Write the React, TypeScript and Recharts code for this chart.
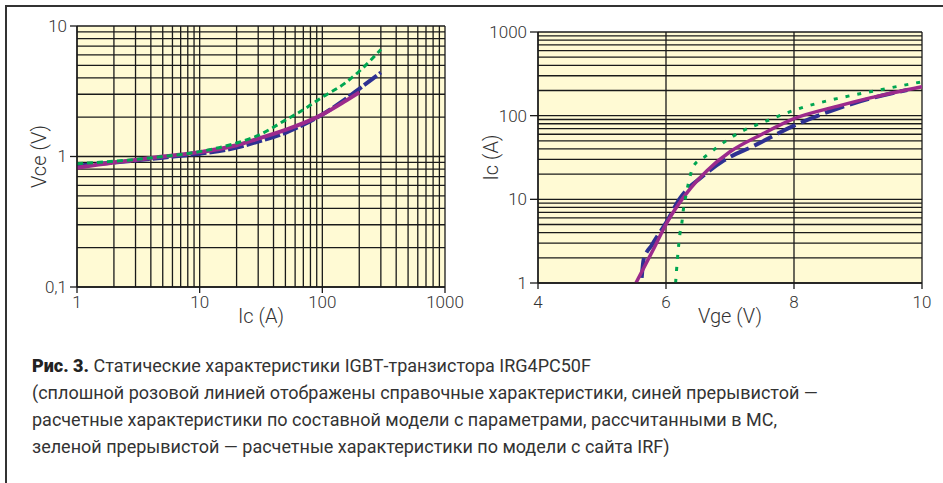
import { LineChart, Line, XAxis, YAxis, CartesianGrid, Label } from "recharts";

// --- left chart: Vce vs Ic (log-log) ---
const icTicks = [1, 2, 3, 4, 5, 6, 7, 8, 9, 10, 20, 30, 40, 50, 60, 70, 80, 90, 100, 200, 300, 400, 500, 600, 700, 800, 900, 1000];
const icMajor = [1, 10, 100, 1000];
const vceTicks = [0.1, 0.2, 0.3, 0.4, 0.5, 0.6, 0.7, 0.8, 0.9, 1, 2, 3, 4, 5, 6, 7, 8, 9, 10];
const vceMajor = [0.1, 1, 10];

const refIc = [1, 2, 3, 5, 10, 20, 30, 50, 70, 100, 150, 200];
const refVce = [0.82, 0.9, 0.94, 1.0, 1.08, 1.22, 1.37, 1.6, 1.8, 2.1, 2.62, 3.1];
const mcIc = [1, 2, 3, 5, 10, 20, 30, 50, 70, 100, 150, 200, 300];
const mcVce = [0.85, 0.9, 0.93, 0.98, 1.05, 1.17, 1.3, 1.52, 1.75, 2.1, 2.7, 3.3, 4.4];
const irfIc = [1, 2, 3, 5, 10, 20, 30, 50, 70, 100, 150, 200, 300];
const irfVce = [0.88, 0.92, 0.95, 1.0, 1.09, 1.27, 1.45, 1.9, 2.28, 2.85, 3.6, 4.5, 6.6];

// --- right chart: Ic vs Vge (semi-log) ---
const vgeTicks = [4, 6, 8, 10];
const icLogTicks = [1, 2, 3, 4, 5, 6, 7, 8, 9, 10, 20, 30, 40, 50, 60, 70, 80, 90, 100, 200, 300, 400, 500, 600, 700, 800, 900, 1000];
const icLogMajor = [1, 10, 100, 1000];

const refVge = [5.53, 5.8, 6.01, 6.32, 6.64, 7.0, 7.5, 8.0, 8.67, 9.19, 10];
const refIcT = [1, 2.5, 5.2, 11.8, 22, 37, 60, 92, 129, 163, 222];
const mcVge = [5.62, 5.65, 5.78, 6.01, 6.22, 6.32, 6.53, 6.9, 7.37, 8.0, 8.67, 9.19, 9.77];
const mcIcT = [1.15, 1.9, 2.85, 5.4, 10.3, 12.9, 17.8, 29, 43.5, 76, 121, 160, 203];
const irfVge = [6.15, 6.18, 6.22, 6.25, 6.27, 6.31, 6.35, 6.43, 6.6, 6.8, 7.1, 7.63, 8.0, 8.67, 9.19, 10];
const irfIcT = [1, 2, 4, 5.4, 7.4, 11, 15.5, 25, 32, 42, 60, 90, 116, 160, 193, 254];

const toPoints = (xs: number[], ys: number[]) => xs.map((x, i) => ({ x, y: ys[i] }));

const PINK = "#9c2a8c";
const BLUE = "#2e3192";
const GREEN = "#00a651";
const PLOT_BG = "#fffad4";
const GRID = "#1a1a1a";
const TEXT = "#333";
const FONT = "Roboto, 'Noto Sans', sans-serif";

const fmt = (v: number) => String(v).replace(".", ",");

function makeYTick(major: number[], size: number, margin: number) {
  return (props: any) => {
    const { x, y, payload } = props;
    if (!major.includes(payload.value)) return <g />;
    return (
      <g>
        <line x1={x + margin} x2={x + margin + size} y1={y} y2={y} stroke={GRID} strokeWidth={1.3} />
        <text x={x} y={y} dy="0.35em" textAnchor="end" fontSize={17} fontWeight={300} fill={TEXT} fontFamily={FONT}>
          {fmt(payload.value)}
        </text>
      </g>
    );
  };
}

function makeXTick(major: number[], size: number, margin: number) {
  return (props: any) => {
    const { x, y, payload } = props;
    if (!major.includes(payload.value)) return <g />;
    return (
      <g>
        <line x1={x} x2={x} y1={y - margin - size} y2={y - margin} stroke={GRID} strokeWidth={1.3} />
        <text x={x} y={y} dy="0.35em" textAnchor="middle" fontSize={17} fontWeight={300} fill={TEXT} fontFamily={FONT}>
          {fmt(payload.value)}
        </text>
      </g>
    );
  };
}

function LeftChart() {
  return (
    <LineChart width={470} height={340} margin={{ top: 26, right: 25, bottom: 0, left: 0 }}>
      <CartesianGrid stroke={GRID} strokeWidth={1.3} fill={PLOT_BG} fillOpacity={1} />
      <XAxis
        type="number"
        dataKey="x"
        scale="log"
        domain={[1, 1000]}
        ticks={icTicks}
        interval={0}
        height={53}
        tickSize={6}
        tickMargin={9}
        tickLine={false}
        axisLine={{ stroke: GRID, strokeWidth: 1.3 }}
        tick={makeXTick(icMajor, 6, 9)}
      >
        <Label value="Ic (A)" position="center" dy={2} fontSize={20} fontWeight={300} fill={TEXT} fontFamily={FONT} />
      </XAxis>
      <YAxis
        type="number"
        dataKey="y"
        scale="log"
        domain={[0.1, 10]}
        ticks={vceTicks}
        interval={0}
        width={77}
        tickSize={7}
        tickMargin={3}
        tickLine={false}
        axisLine={{ stroke: GRID, strokeWidth: 1.3 }}
        tick={makeYTick(vceMajor, 7, 3)}
      >
        <Label value="Vce (V)" position="center" angle={-90} fontSize={20} fontWeight={300} fill={TEXT} fontFamily={FONT} />
      </YAxis>
      <Line data={toPoints(mcIc, mcVce)} dataKey="y" type="monotone" stroke={BLUE} strokeWidth={4} strokeDasharray="16 3" dot={false} isAnimationActive={false} />
      <Line data={toPoints(refIc, refVce)} dataKey="y" type="monotone" stroke={PINK} strokeWidth={4} dot={false} isAnimationActive={false} />
      <Line data={toPoints(irfIc, irfVce)} dataKey="y" type="monotone" stroke={GREEN} strokeWidth={3} strokeDasharray="6 4" dot={false} isAnimationActive={false} />
    </LineChart>
  );
}

function RightChart() {
  return (
    <LineChart width={499} height={340} margin={{ top: 32, right: 21, bottom: 0, left: 0 }}>
      <CartesianGrid stroke={GRID} strokeWidth={1.3} fill={PLOT_BG} fillOpacity={1} />
      <XAxis
        type="number"
        dataKey="x"
        domain={[4, 10]}
        ticks={vgeTicks}
        interval={0}
        height={57}
        tickSize={6}
        tickMargin={13}
        tickLine={false}
        axisLine={{ stroke: GRID, strokeWidth: 1.3 }}
        tick={makeXTick(vgeTicks, 6, 13)}
      >
        <Label value="Vge (V)" position="center" dy={4} fontSize={20} fontWeight={300} fill={TEXT} fontFamily={FONT} />
      </XAxis>
      <YAxis
        type="number"
        dataKey="y"
        scale="log"
        domain={[1, 1000]}
        ticks={icLogTicks}
        interval={0}
        width={94}
        tickSize={8}
        tickMargin={3}
        tickLine={false}
        axisLine={{ stroke: GRID, strokeWidth: 1.3 }}
        tick={makeYTick(icLogMajor, 8, 3)}
      >
        <Label value="Ic (A)" position="center" angle={-90} fontSize={20} fontWeight={300} fill={TEXT} fontFamily={FONT} />
      </YAxis>
      <Line data={toPoints(mcVge, mcIcT)} dataKey="y" type="monotone" stroke={BLUE} strokeWidth={4} strokeDasharray="20 6" dot={false} isAnimationActive={false} />
      <Line data={toPoints(refVge, refIcT)} dataKey="y" type="monotone" stroke={PINK} strokeWidth={3.5} dot={false} isAnimationActive={false} />
      <Line data={toPoints(irfVge, irfIcT)} dataKey="y" type="monotone" stroke={GREEN} strokeWidth={3} strokeDasharray="4 8" dot={false} isAnimationActive={false} />
    </LineChart>
  );
}

const captionLines = [
  "(сплошной розовой линией отображены справочные характеристики, синей прерывистой —",
  "расчетные характеристики по составной модели с параметрами, рассчитанными в МС,",
  "зеленой прерывистой — расчетные характеристики по модели с сайта IRF)",
];

export default function App() {
  return (
    <div style={{ position: "absolute", left: 0, top: 0, width: 943, height: 483, background: "#fff", overflow: "hidden" }}>
      <div style={{ position: "absolute", left: 5, top: 5, width: 960, height: 500, borderTop: "2px solid #333", borderLeft: "2px solid #333" }} />
      <div style={{ position: "absolute", left: 0, top: 0 }}>
        <LeftChart />
      </div>
      <div style={{ position: "absolute", left: 444, top: 0 }}>
        <RightChart />
      </div>
      <div style={{ position: "absolute", left: 32, top: 352, fontFamily: FONT, fontSize: 18, lineHeight: "27px", color: TEXT, whiteSpace: "nowrap" }}>
        <div>
          <b style={{ color: "#222", fontWeight: 900 }}>Рис. 3.</b> Статические характеристики IGBT‑транзистора IRG4PC50F
        </div>
        {captionLines.map((t) => (
          <div key={t}>{t}</div>
        ))}
      </div>
    </div>
  );
}
